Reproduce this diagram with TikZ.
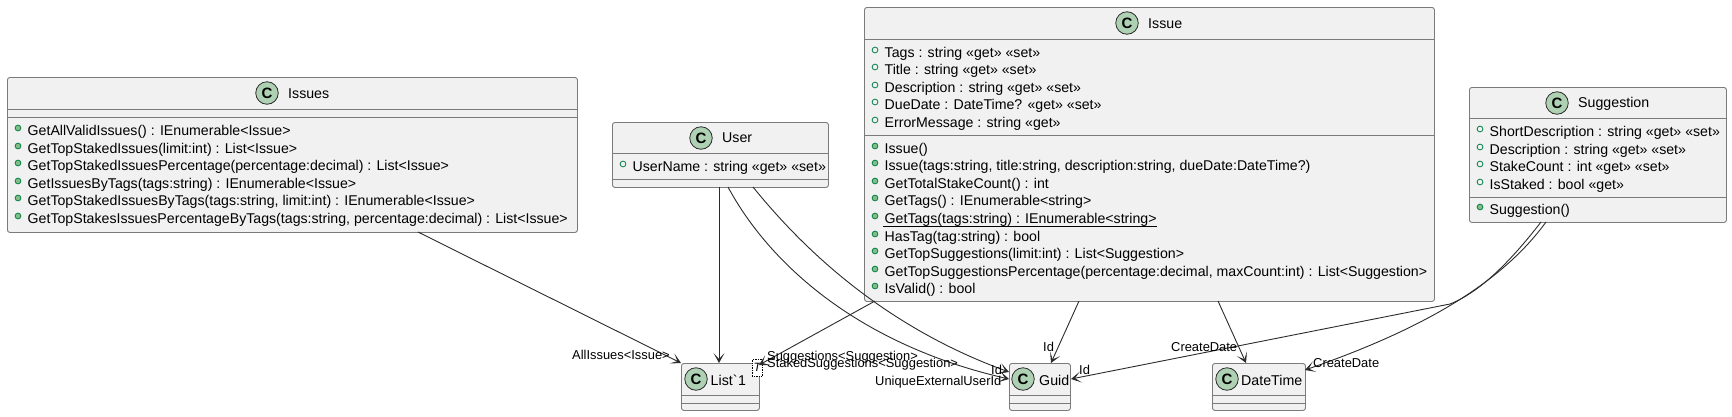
\documentclass[tikz,border=0pt]{standalone}
\usepackage{fontspec}
\setmainfont{Liberation Sans}
\newfontfamily\rawf{Liberation Sans}
\usetikzlibrary{arrows.meta}
\definecolor{boxfill}{HTML}{F1F1F1}
\definecolor{boxline}{HTML}{7B7B7B}
\definecolor{cfill}{HTML}{ADD1B2}
\definecolor{pubm}{HTML}{84BE84}
\definecolor{pubmline}{HTML}{038048}
\definecolor{lnk}{HTML}{2B2B2B}
\newcommand{\classbox}[6]{% name, left, top, right, bottom, dividers
  \node[boxshape, minimum width=#4-#2, minimum height=#5-#3, anchor=north west] (#1) at (#2,#3) {};
  \foreach \d in {#6} { \draw[divider] (#2,\d) -- (#4,\d); }
}
\newcommand{\cicon}[2]{\node[cicon] at (#1,#2) {\textbf{C}};}
\newcommand{\fieldm}[3]{\node[fdot] at (#1+11,#2-3) {}; \node[mem] at (#1+20.5,#2+0.5) {#3};}
\newcommand{\methm}[3]{\node[mdot] at (#1+11,#2-3) {}; \node[mem] at (#1+20.5,#2+0.5) {#3};}
\tikzset{
  x=1pt,y=-1pt,
  boxshape/.style={draw=boxline,fill=boxfill,line width=0.9pt,rounded corners=2.5pt,inner sep=0pt},
  divider/.style={draw=boxline,line width=0.9pt},
  cicon/.style={circle,draw=lnk,fill=cfill,line width=0.8pt,minimum size=22.5pt,inner sep=0pt,font=\fontsize{15}{15}\selectfont},
  fdot/.style={circle,draw=pubmline,fill=none,line width=0.8pt,minimum size=5.8pt,inner sep=0pt},
  mdot/.style={circle,draw=pubmline,fill=pubm,line width=0.8pt,minimum size=5.8pt,inner sep=0pt},
  mem/.style={anchor=west,inner sep=0pt,font=\fontsize{14.15}{15}\selectfont},
  ttl/.style={anchor=west,inner sep=0pt,font=\fontsize{14.2}{15}\selectfont},
  elab/.style={inner sep=0pt,font=\fontsize{12.9}{14}\selectfont},
  link/.style={draw=lnk,line width=0.9pt,-{Stealth[length=10pt,width=11pt,inset=6pt]}},
}
\begin{document}
\begin{tikzpicture}
\useasboundingbox (0,0) rectangle (1732,416);
% Issues
\classbox{issues}{7}{77}{577}{232}{109,117}
\cicon{267}{93}\node[ttl] at (288,94) {Issues};
\methm{7}{131}{GetAllValidIssues() : IEnumerable<Issue>}
\methm{7}{149}{GetTopStakedIssues(limit:int) : List<Issue>}
\methm{7}{166}{GetTopStakedIssuesPercentage(percentage:decimal) : List<Issue>}
\methm{7}{184}{GetIssuesByTags(tags:string) : IEnumerable<Issue>}
\methm{7}{201}{GetTopStakedIssuesByTags(tags:string, limit:int) : IEnumerable<Issue>}
\methm{7}{219}{GetTopStakesIssuesPercentageByTags(tags:string, percentage:decimal) : List<Issue>}
% User
\classbox{user}{612}{122}{828}{187}{153,179}
\cicon{701}{138}\node[ttl] at (722,138) {User};
\fieldm{612}{167}{UserName : string «get» «set»}
% Issue
\classbox{issue}{864}{7}{1434}{301}{39,135}
\cicon{1127}{23}\node[ttl] at (1148,24) {Issue};
\fieldm{864}{53}{Tags : string «get» «set»}
\fieldm{864}{70}{Title : string «get» «set»}
\fieldm{864}{88}{Description : string «get» «set»}
\fieldm{864}{105}{DueDate : DateTime? «get» «set»}
\fieldm{864}{123}{ErrorMessage : string «get»}
\methm{864}{149}{Issue()}
\methm{864}{166}{Issue(tags:string, title:string, description:string, dueDate:DateTime?)}
\methm{864}{184}{GetTotalStakeCount() : int}
\methm{864}{201}{GetTags() : IEnumerable<string>}
\methm{864}{219}{GetTags(tags:string) : IEnumerable<string>}
\draw[black,line width=0.8pt] (883,226) -- (1157,226);
\methm{864}{237}{HasTag(tag:string) : bool}
\methm{864}{254}{GetTopSuggestions(limit:int) : List<Suggestion>}
\methm{864}{272}{GetTopSuggestionsPercentage(percentage:decimal, maxCount:int) : List<Suggestion>}
\methm{864}{289}{IsValid() : bool}
% Suggestion
\classbox{sugg}{1469}{87}{1726}{222}{118,197}
\cicon{1557}{103}\node[ttl] at (1578,104) {Suggestion};
\fieldm{1469}{132}{ShortDescription : string «get» «set»}
\fieldm{1469}{150}{Description : string «get» «set»}
\fieldm{1469}{167}{StakeCount : int «get» «set»}
\fieldm{1469}{185}{IsStaked : bool «get»}
\methm{1469}{210}{Suggestion()}
% List
\classbox{list}{681}{363}{759}{410}{395,403}
\cicon{696}{379}\node[ttl] at (710.5,380) {List{\rawf\char96}\kern0.6pt 1};
\node[draw=black,densely dotted,fill=white,minimum width=10pt,minimum height=17pt,inner sep=0pt,line width=0.7pt,anchor=north west] (tmpl) at (752,359) {};
\node[inner sep=0pt,font=\fontsize{12}{12}\selectfont\itshape] at (tmpl) {T};
% Guid
\classbox{guid}{1009}{363}{1070}{410}{395,403}
\cicon{1023}{379}\node[ttl] at (1039,380) {Guid};
% DateTime
\classbox{dt}{1212}{363}{1305}{410}{395,403}
\cicon{1227}{379}\node[ttl] at (1241,380) {DateTime};
% connectors
\coordinate (a1) at (418,232);
\draw[link] (a1) -- (681,363);
\coordinate (a2) at (719,187);
\draw[link] (a2) -- (719,363);
\coordinate (a3) at (753,187);
\draw[link] (a3) .. controls (800,245) and (880,325) .. (1009,372);
\coordinate (a4) at (728,187);
\draw[link] (a4) .. controls (770,265) and (860,345) .. (1009,379);
\coordinate (a5) at (875,301);
\draw[link] (a5) -- (759,365);
\coordinate (a6) at (1079,301);
\draw[link] (a6) -- (1051,363);
\coordinate (a7) at (1218,301);
\draw[link] (a7) -- (1246,363);
\coordinate (a8) at (1541,222);
\draw[link] (a8) .. controls (1510,262) and (1480,292) .. (1450,304) -- (1071,379);
\coordinate (a9) at (1546,222);
\draw[link] (a9) .. controls (1500,285) and (1420,330) .. (1305,370);
% labels
\node[elab,anchor=west] at (572,355) {AllIssues<Issue>};
\node[elab,anchor=west] at (767,357) {Suggestions<Suggestion>};
\node[elab,anchor=west] at (767,364.5) {StakedSuggestions<Suggestion>};
\node[elab,anchor=west] at (875,382) {UniqueExternalUserId};
\node[elab,anchor=west] at (991,370) {Id};
\node[elab,anchor=west] at (1043,347) {Id};
\node[elab,anchor=west] at (1079,370) {Id};
\node[elab,anchor=west] at (1171,347) {CreateDate};
\node[elab,anchor=west] at (1313,363) {CreateDate};
\end{tikzpicture}
\end{document}
